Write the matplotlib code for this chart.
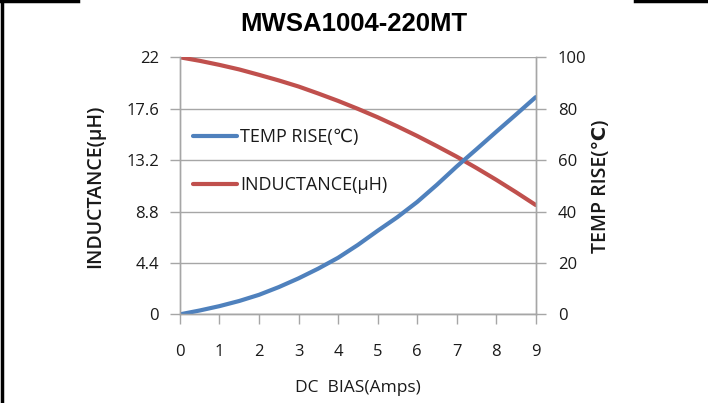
import numpy as np
import matplotlib
matplotlib.use('Agg')
from matplotlib import pyplot as plt
from matplotlib.lines import Line2D

# values (every half amp)
dc_bias = [0, 0.5, 1, 1.5, 2, 2.5, 3, 3.5, 4, 4.5,
           5, 5.5, 6, 6.5, 7, 7.5, 8, 8.5, 9]
inductance = [22.0, 21.7, 21.35, 20.96, 20.5, 20.02, 19.5, 18.9, 18.27, 17.59,
              16.87, 16.09, 15.27, 14.4, 13.5, 12.53, 11.52, 10.46, 9.36]
temp_rise = [0.0, 1.5, 3.2, 5.2, 7.6, 10.6, 14.0, 17.8, 22.0, 27.0,
             32.5, 37.8, 43.7, 50.4, 57.5, 64.2, 71.0, 77.7, 84.5]

x_ticks = [0, 1, 2, 3, 4, 5, 6, 7, 8, 9]
left_ticks = [0, 4.4, 8.8, 13.2, 17.6, 22]
left_labels = ['0', '4.4', '8.8', '13.2', '17.6', '22']
right_ticks = [0, 20, 40, 60, 80, 100]

plt.rcParams['font.family'] = ['Open Sans', 'DejaVu Sans']
blue = '#4F81BD'
red = '#C0504D'
grid_c = '#A6A6A6'
txt = '#1a1a1a'

fig = plt.figure(figsize=(7.08, 4.03), dpi=100)
ax = fig.add_axes([0.2542, 0.220, 0.5024, 0.6378])
ax2 = ax.twinx()

l_ind, = ax.plot(dc_bias, inductance, color=red, lw=3.0, solid_capstyle='round')
l_tmp, = ax2.plot(dc_bias, temp_rise, color=blue, lw=3.0, solid_capstyle='round')

ax.set_xlim(0, 9)
ax.set_ylim(0, 22)
ax2.set_ylim(0, 100)
ax.set_xticks(x_ticks)
ax.set_yticks(left_ticks)
ax.set_yticklabels(left_labels)
ax2.set_yticks(right_ticks)

ax.grid(axis='y', color=grid_c, lw=1.0)
ax.set_axisbelow(True)
for a in (ax, ax2):
    for s in a.spines.values():
        s.set_color(grid_c)
        s.set_linewidth(1.0)
    a.spines['top'].set_visible(False)
ax.tick_params(axis='both', length=7, width=1, color=grid_c, labelcolor=txt, labelsize=12)
ax.tick_params(axis='x', pad=14)
ax.tick_params(axis='y', pad=8)
ax2.tick_params(axis='y', length=7, width=1, color=grid_c, labelcolor=txt, labelsize=12, pad=9)

ax.set_xlabel('DC  BIAS(Amps)', fontsize=12.5, color=txt, labelpad=15)
ax.set_ylabel('INDUCTANCE(µH)', fontsize=14, color=txt, labelpad=15, fontweight='semibold')
ax2.set_ylabel('TEMP RISE(℃)', fontsize=14, color=txt, labelpad=3, fontweight='semibold')

fig.text(0.5, 0.94, 'MWSA1004-220MT', ha='center', va='center',
         fontsize=18.5, fontweight='bold', family='Liberation Sans')

ax.legend([l_tmp, l_ind], ['TEMP RISE(℃)', 'INDUCTANCE(µH)'],
          loc='upper left', bbox_to_anchor=(0.0365, 0.725), frameon=False,
          borderaxespad=0, borderpad=0,
          fontsize=13, handlelength=2.45, handletextpad=0.17, labelspacing=1.67,
          labelcolor=txt)

# frame pieces around the picture
fig.add_artist(Line2D([0.003, 0.003], [0, 1], color='black', lw=2.5))
fig.add_artist(Line2D([0, 0.110], [0.997, 0.997], color='black', lw=2.5))
fig.add_artist(Line2D([0.897, 1], [0.997, 0.997], color='black', lw=2.5))

fig.savefig('out.png', dpi=100)
